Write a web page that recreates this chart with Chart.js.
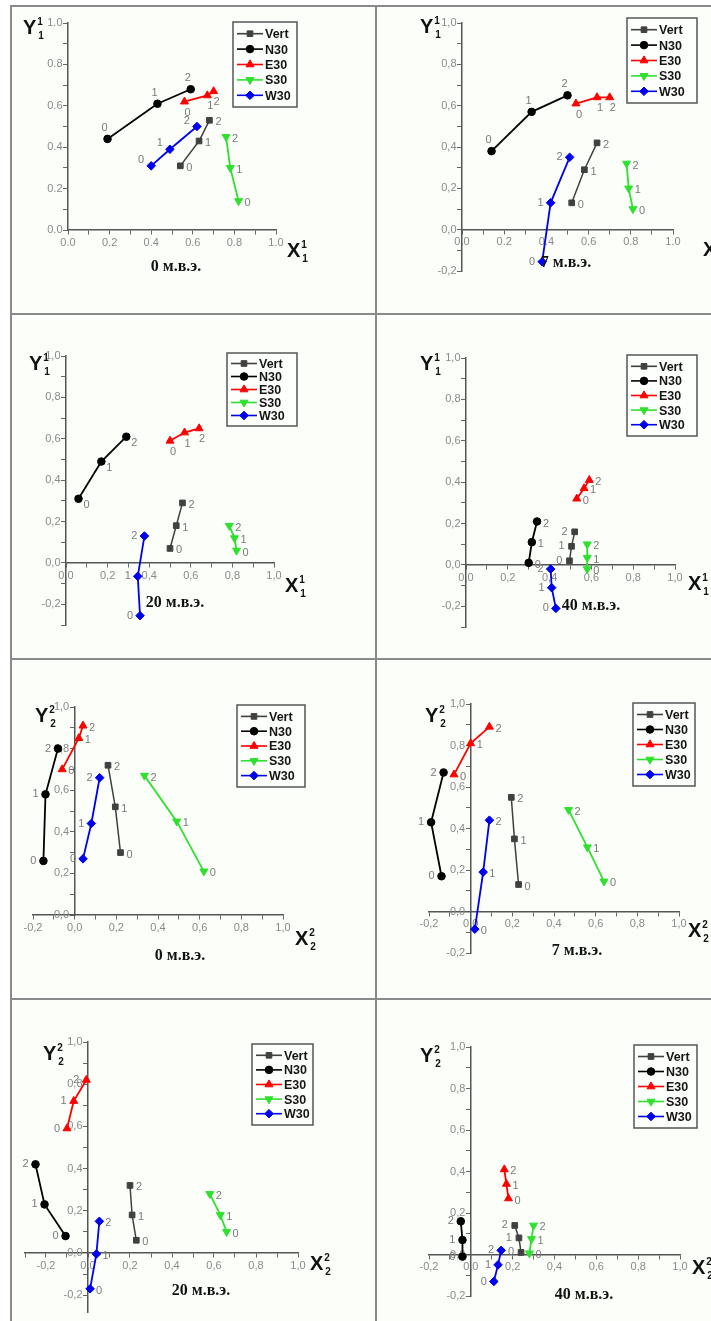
<!DOCTYPE html>
<html>
<head>
<meta charset="utf-8">
<script src="https://cdn.jsdelivr.net/npm/chart.js@4.4.1/dist/chart.umd.min.js"></script>
<style>
  body { margin: 0; background: #fff; width: 711px; height: 1321px; overflow: hidden; position: relative; }
  .rule { position: absolute; background: #8a8a8a; }
  .cell { position: absolute; background: #fbfef9; }
</style>
</head>
<body>
<div class="rule" style="left:10px;top:5px;width:701px;height:2px"></div>
<div class="rule" style="left:10px;top:5px;width:2px;height:1316px"></div>
<div class="rule" style="left:375px;top:5px;width:2px;height:1316px"></div>
<div class="rule" style="left:10px;top:313px;width:701px;height:2px"></div>
<div class="rule" style="left:10px;top:658px;width:701px;height:2px"></div>
<div class="rule" style="left:10px;top:998px;width:701px;height:2px"></div>
<script>
var seriesNames = ['Vert', 'N30', 'E30', 'S30', 'W30'];
var pointNames = ['0', '1', '2'];
var panelTitles = ['0 м.в.э.', '7 м.в.э.', '20 м.в.э.', '40 м.в.э.', '0 м.в.э.', '7 м.в.э.', '20 м.в.э.', '40 м.в.э.'];
var axisIndex = ['1', '1', '1', '1', '2', '2', '2', '2'];

// [x, y] of points 0, 1, 2 -- one row per panel
var vert = [
    [[0.54, 0.31], [0.63, 0.43], [0.68, 0.53]],
    [[0.52, 0.13], [0.58, 0.29], [0.64, 0.42]],
    [[0.50, 0.07], [0.53, 0.18], [0.56, 0.29]],
    [[0.495, 0.02], [0.505, 0.09], [0.52, 0.16]],
    [[0.22, 0.30], [0.195, 0.52], [0.16, 0.72]],
    [[0.23, 0.13], [0.21, 0.35], [0.195, 0.55]],
    [[0.23, 0.06], [0.21, 0.18], [0.20, 0.32]],
    [[0.24, 0.01], [0.23, 0.08], [0.21, 0.14]]
];
var n30 = [
    [[0.19, 0.44], [0.43, 0.61], [0.59, 0.68]],
    [[0.14, 0.38], [0.33, 0.57], [0.50, 0.65]],
    [[0.06, 0.31], [0.17, 0.49], [0.29, 0.61]],
    [[0.30, 0.01], [0.315, 0.11], [0.34, 0.21]],
    [[-0.15, 0.26], [-0.14, 0.58], [-0.08, 0.80]],
    [[-0.14, 0.17], [-0.19, 0.43], [-0.13, 0.67]],
    [[-0.107, 0.08], [-0.207, 0.23], [-0.25, 0.42]],
    [[-0.04, -0.01], [-0.04, 0.07], [-0.048, 0.16]]
];
var e30 = [
    [[0.56, 0.62], [0.67, 0.65], [0.70, 0.67]],
    [[0.54, 0.61], [0.64, 0.64], [0.70, 0.64]],
    [[0.50, 0.59], [0.57, 0.63], [0.64, 0.65]],
    [[0.53, 0.32], [0.565, 0.37], [0.59, 0.41]],
    [[-0.06, 0.70], [0.02, 0.85], [0.04, 0.91]],
    [[-0.08, 0.66], [0.0, 0.81], [0.09, 0.89]],
    [[-0.10, 0.59], [-0.068, 0.72], [-0.008, 0.82]],
    [[0.18, 0.27], [0.17, 0.34], [0.16, 0.41]]
];
var s30 = [
    [[0.82, 0.14], [0.78, 0.30], [0.76, 0.45]],
    [[0.81, 0.10], [0.79, 0.20], [0.78, 0.32]],
    [[0.82, 0.06], [0.81, 0.12], [0.785, 0.18]],
    [[0.58, -0.02], [0.58, 0.035], [0.58, 0.10]],
    [[0.62, 0.21], [0.49, 0.45], [0.335, 0.67]],
    [[0.64, 0.145], [0.56, 0.31], [0.47, 0.49]],
    [[0.66, 0.10], [0.63, 0.18], [0.58, 0.28]],
    [[0.28, 0.006], [0.29, 0.075], [0.30, 0.14]]
];
var w30 = [
    [[0.40, 0.31], [0.49, 0.39], [0.62, 0.50]],
    [[0.38, -0.155], [0.42, 0.13], [0.51, 0.35]],
    [[0.356, -0.255], [0.345, -0.065], [0.377, 0.13]],
    [[0.43, -0.21], [0.41, -0.11], [0.405, -0.02]],
    [[0.04, 0.27], [0.08, 0.44], [0.12, 0.66]],
    [[0.02, -0.085], [0.06, 0.19], [0.09, 0.44]],
    [[0.01, -0.17], [0.04, -0.005], [0.054, 0.15]],
    [[0.11, -0.13], [0.13, -0.05], [0.145, 0.02]]
];
var xRanges = [[0, 1], [0, 1], [0, 1], [0, 1], [-0.2, 1], [-0.2, 1], [-0.3, 1], [-0.2, 1]];
var yRanges = [[0, 1], [-0.2, 1], [-0.3, 1], [-0.3, 1], [0, 1], [-0.2, 1], [-0.28, 1], [-0.2, 1]];

var allSeries = [vert, n30, e30, s30, w30];

var seriesStyle = [
    { color: '#404040', pointStyle: 'rect', rotation: 0, radius: 4, width: 1.5 },
    { color: '#000000', pointStyle: 'circle', rotation: 0, radius: 3.8, width: 1.8 },
    { color: '#ff0000', pointStyle: 'triangle', rotation: 0, radius: 4.6, width: 1.8 },
    { color: '#2fe02f', pointStyle: 'triangle', rotation: 180, radius: 4.6, width: 1.8 },
    { color: '#0000ee', pointStyle: 'rectRot', rotation: 0, radius: 4.3, width: 1.8 }
];

// page-pixel layout of every panel: cell box, plot area, text anchors
var PANELS = [
    { cell: [12, 7, 363, 306], area: [68, 23, 276, 230], xsep: '.', ysep: '.', yLab: [23, 34], xLab: [287, 257], title: [176, 271], legend: [233, 22, 297, 107], sides: ['r', 't', 'b', 'r', 'tl'] },
    { cell: [377, 7, 334, 306], area: [462, 23, 673, 271], xsep: '.', ysep: ',', yLab: [420, 33], xLab: [703, 256], title: [566, 267], legend: [627, 18, 697, 103], sides: ['r', 't', 'b', 'r', 'l'] },
    { cell: [12, 315, 363, 343], area: [66, 356, 274, 625], xsep: ',', ysep: ',', yLab: [29, 370], xLab: [285, 592], title: [175, 607], legend: [227, 353, 297, 426], sides: ['r', 'rb', 'b', 'r', 'l'] },
    { cell: [377, 315, 334, 343], area: [466, 358, 675, 627], xsep: ',', ysep: ',', yLab: [420, 370], xLab: [688, 590], title: [591, 610], legend: [627, 355, 697, 436], sides: ['l', 'r', 'r', 'r', 'l'] },
    { cell: [12, 660, 363, 338], area: [33, 707, 283, 915], xsep: ',', ysep: ',', yLab: [35, 722], xLab: [295, 945], title: [180, 960], legend: [237, 705, 305, 787], sides: ['r', 'l', 'r', 'r', 'l'] },
    { cell: [377, 660, 334, 338], area: [429, 704, 679, 953], xsep: ',', ysep: ',', yLab: [425, 722], xLab: [688, 937], title: [577, 955], legend: [633, 703, 695, 786], sides: ['r', 'l', 'r', 'r', 'r'] },
    { cell: [12, 1000, 363, 321], area: [25, 1042, 298, 1312], xsep: ',', ysep: ',', yLab: [43, 1060], xLab: [310, 1270], title: [201, 1295], legend: [252, 1044, 313, 1125], sides: ['r', 'l', 'l', 'r', 'r'] },
    { cell: [377, 1000, 334, 321], area: [429, 1047, 680, 1296], xsep: ',', ysep: ',', yLab: [420, 1062], xLab: [692, 1274], title: [584, 1299], legend: [634, 1045, 697, 1128], sides: ['l', 'l', 'r', 'r', 'l'] }
];

var SANS = '"Liberation Sans", Arial, sans-serif';
var SERIF = '"Liberation Serif", "Times New Roman", serif';

var sideOffsets = {
    r: { dx: 6, dy: 2, align: 'left' },
    rb: { dx: 5, dy: 6, align: 'left' },
    l: { dx: -7, dy: 0, align: 'right' },
    t: { dx: -3, dy: -11, align: 'center' },
    tl: { dx: -7, dy: -6, align: 'right' },
    b: { dx: 3, dy: 11, align: 'center' }
};

function tickFmt(sep, pad) {
    return function(v) {
        var t = Math.round(v * 10);
        if (t % 2 !== 0) return '';
        return (t / 10).toFixed(1).replace('.', sep) + pad;
    };
}

function drawMarker(ctx, st, x, y) {
    ctx.fillStyle = st.color;
    ctx.strokeStyle = st.color;
    ctx.lineWidth = 1;
    Chart.helpers.drawPoint(ctx, { pointStyle: st.pointStyle, rotation: st.rotation, radius: st.radius, borderWidth: 1 }, x, y);
}

function drawAxisName(ctx, letter, idx, x, y) {
    ctx.fillStyle = '#111';
    ctx.textAlign = 'left';
    ctx.textBaseline = 'alphabetic';
    ctx.font = 'bold 20px ' + SANS;
    ctx.fillText(letter, x, y);
    var w = ctx.measureText(letter).width;
    ctx.font = 'bold 10px ' + SANS;
    ctx.fillText(idx, x + w + 1, y - 9);
    ctx.fillText(idx, x + w + 2, y + 5);
}

var decor = {
    id: 'decor',
    afterDatasetsDraw: function(chart, args, opts) {
        var ctx = chart.ctx;
        var L = opts.layout;
        var ox = L.cell[0], oy = L.cell[1];
        ctx.save();

        // numbers 0,1,2 beside the points
        ctx.font = '11px ' + SANS;
        ctx.fillStyle = '#7a7a7a';
        ctx.textBaseline = 'middle';
        chart.data.datasets.forEach(function(ds, i) {
            var off = sideOffsets[L.sides[i]];
            chart.getDatasetMeta(i).data.forEach(function(pt, j) {
                ctx.textAlign = off.align;
                ctx.fillText(pointNames[j], pt.x + off.dx, pt.y + off.dy);
            });
        });

        drawAxisName(ctx, 'Y', opts.idx, L.yLab[0] - ox, L.yLab[1] - oy);
        drawAxisName(ctx, 'X', opts.idx, L.xLab[0] - ox, L.xLab[1] - oy);

        ctx.font = 'bold 16px ' + SERIF;
        ctx.fillStyle = '#111';
        ctx.textAlign = 'center';
        ctx.textBaseline = 'alphabetic';
        ctx.fillText(opts.title, L.title[0] - ox, L.title[1] - oy);

        // framed legend
        var bx = L.legend[0] - ox, by = L.legend[1] - oy;
        var bw = L.legend[2] - L.legend[0], bh = L.legend[3] - L.legend[1];
        ctx.fillStyle = '#fdfffc';
        ctx.fillRect(bx, by, bw, bh);
        ctx.strokeStyle = '#555';
        ctx.lineWidth = 1.5;
        ctx.strokeRect(bx, by, bw, bh);
        var rowH = (bh - 8) / 5;
        chart.data.datasets.forEach(function(ds, i) {
            var st = seriesStyle[i];
            var yy = by + 4 + rowH * (i + 0.5);
            ctx.strokeStyle = st.color;
            ctx.lineWidth = 1.6;
            ctx.beginPath();
            ctx.moveTo(bx + 4, yy);
            ctx.lineTo(bx + 30, yy);
            ctx.stroke();
            drawMarker(ctx, st, bx + 17, yy);
            ctx.fillStyle = '#151515';
            ctx.font = 'bold 12.5px ' + SANS;
            ctx.textAlign = 'left';
            ctx.textBaseline = 'middle';
            ctx.fillText(ds.label, bx + 32, yy + 1);
        });
        ctx.restore();
    }
};

function axisOptions(range, sep, where, pad) {
    return {
        type: 'linear',
        min: range[0],
        max: range[1],
        position: where,
        grid: { drawOnChartArea: false, drawTicks: true, tickLength: 4, color: '#666', lineWidth: 1 },
        border: { display: true, color: '#555', width: 1.5 },
        ticks: {
            stepSize: 0.1,
            autoSkip: false,
            includeBounds: false,
            maxRotation: 0,
            padding: 2,
            color: '#8a8a8a',
            font: { size: 11, family: SANS },
            callback: tickFmt(sep, pad)
        }
    };
}

function drawPanel(k) {
    var L = PANELS[k];
    var box = document.createElement('div');
    box.className = 'cell';
    box.style.left = L.cell[0] + 'px';
    box.style.top = L.cell[1] + 'px';
    box.style.width = L.cell[2] + 'px';
    box.style.height = L.cell[3] + 'px';
    var canvas = document.createElement('canvas');
    canvas.width = L.cell[2];
    canvas.height = L.cell[3];
    box.appendChild(canvas);
    document.body.appendChild(box);

    var datasets = [];
    for (var i = 0; i < seriesNames.length; i++) {
        var st = seriesStyle[i];
        datasets.push({
            label: seriesNames[i],
            data: allSeries[i][k].map(function(p) { return { x: p[0], y: p[1] }; }),
            showLine: true,
            borderColor: st.color,
            backgroundColor: st.color,
            borderWidth: st.width,
            pointStyle: st.pointStyle,
            pointRotation: st.rotation,
            pointRadius: st.radius,
            pointBorderWidth: 1,
            tension: 0,
            clip: false
        });
    }

    new Chart(canvas.getContext('2d'), {
        type: 'scatter',
        data: { datasets: datasets },
        options: {
            responsive: false,
            animation: false,
            devicePixelRatio: 1,
            layout: {
                padding: {
                    left: L.area[0] - L.cell[0],
                    top: L.area[1] - L.cell[1],
                    right: L.cell[0] + L.cell[2] - L.area[2],
                    bottom: L.cell[1] + L.cell[3] - L.area[3]
                }
            },
            scales: {
                x: axisOptions(xRanges[k], L.xsep, { y: 0 }, ''),
                y: axisOptions(yRanges[k], L.ysep, { x: 0 }, '\u2002')
            },
            plugins: {
                legend: { display: false },
                tooltip: { enabled: false },
                decor: { layout: L, idx: axisIndex[k], title: panelTitles[k] }
            }
        },
        plugins: [decor]
    });
}

for (var k = 0; k < PANELS.length; k++) {
    drawPanel(k);
}
</script>
</body>
</html>
